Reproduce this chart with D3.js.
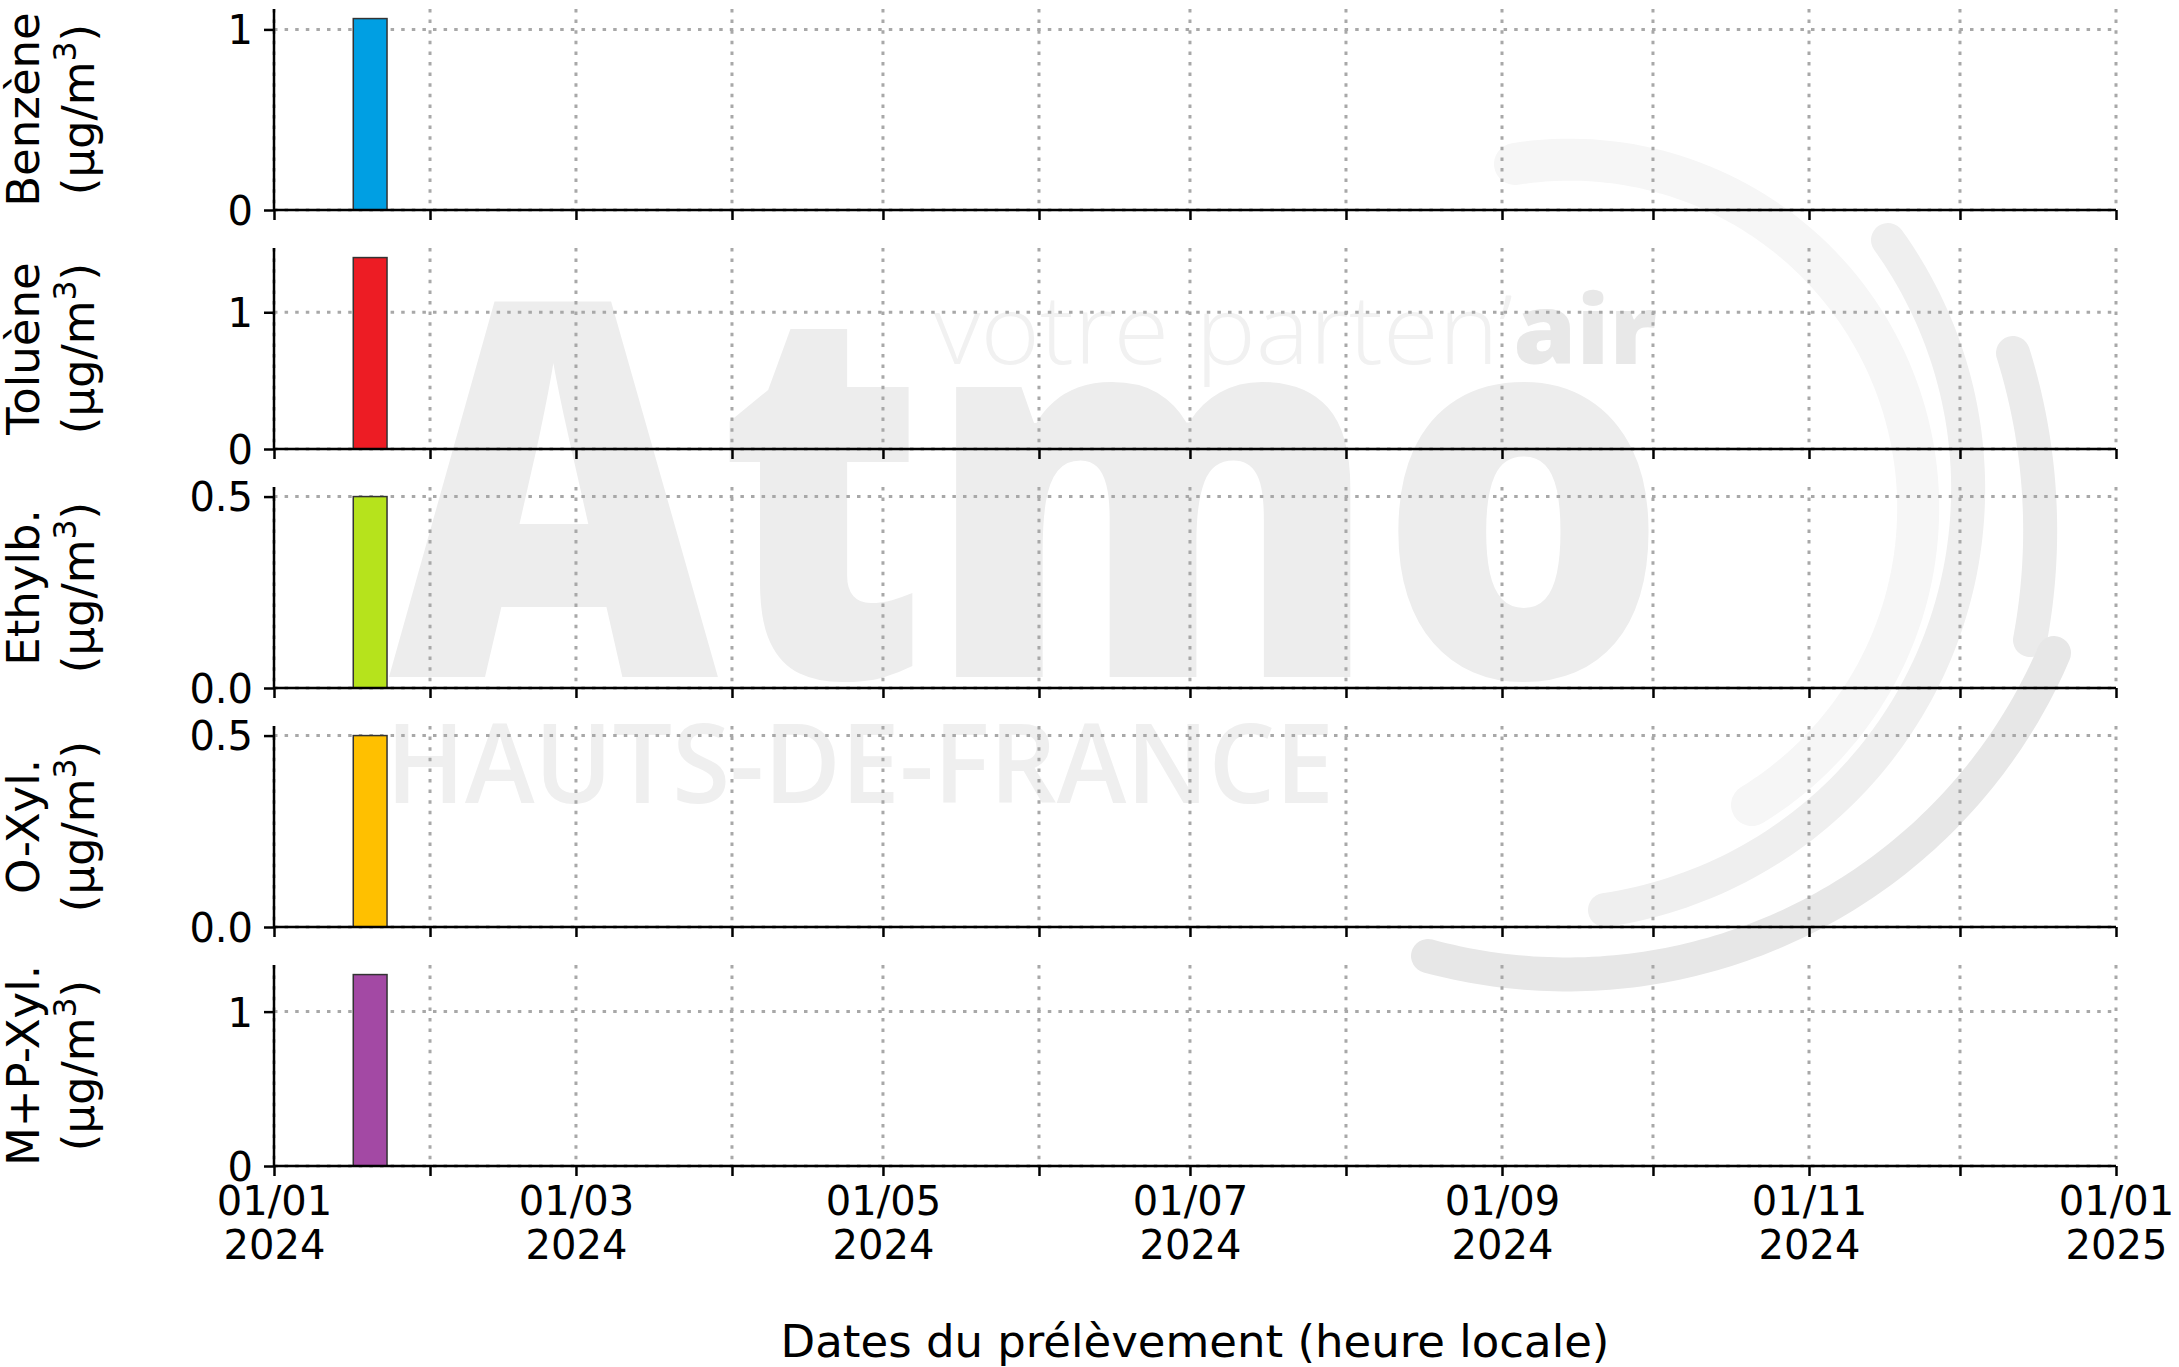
<!DOCTYPE html>
<html><head><meta charset="utf-8">
<script src="https://cdn.jsdelivr.net/npm/d3@7"></script>
<style>body{margin:0;background:#fff}svg{display:block}</style>
</head><body>
<svg id="c" width="2179" height="1367"></svg>
<script>
// ---- data ----
const species = ["Benzène", "Toluène", "Ethylb.", "O-Xyl.", "M+P-Xyl."];
const values = [1.06, 1.40, 0.50, 0.50, 1.24];
const colors = ["#009fe3", "#ed1c24", "#b6e31c", "#ffc000", "#a349a4"];
const sampleStart = "2024-01-16T18:00:00Z";
const sampleEnd = "2024-01-23T11:00:00Z";
const yTickValues = [[0, 1], [0, 1], [0, 0.5], [0, 0.5], [0, 1]];
const yTickLabels = [["0", "1"], ["0", "1"], ["0.0", "0.5"], ["0.0", "0.5"], ["0", "1"]];
const xDomain = ["2024-01-01T00:00:00Z", "2025-01-01T00:00:00Z"];
const xLabelEvery = 2; // label every other month
const xTitle = "Dates du prélèvement (heure locale)";
const unitText = ["(µg/m", "3", ")"];

// ---- layout ----
const W = 2179, H = 1367;
const left = 274, right = 2116;
const panelTop0 = 9, panelH = 201, panelStep = 239;
const font = "DejaVu Sans, sans-serif";
const tickFs = 40, labelFs = 45;
const gridColor = "#a8a8a8";

const svg = d3.select("#c");
svg.append("rect").attr("width", W).attr("height", H).attr("fill", "#fff");

// ---- watermark ----
const wm = svg.append("g").attr("class", "watermark");
wm.append("text").attr("x", 389).attr("y", 677)
  .attr("font-family", "Open Sans, sans-serif").attr("font-weight", 800)
  .attr("font-size", 524).attr("fill", "#ededed")
  .attr("textLength", 1279).attr("lengthAdjust", "spacingAndGlyphs").text("Atmo");
const vp = wm.append("text").attr("x", 934).attr("y", 364)
  .attr("font-family", "Open Sans, sans-serif").attr("font-size", 95)
  .attr("textLength", 723).attr("lengthAdjust", "spacingAndGlyphs");
vp.append("tspan").attr("font-weight", 300).attr("fill", "#f1f1f1").text("votre parten’");
vp.append("tspan").attr("font-weight", 800).attr("fill", "#e8e8e8").text("air");
wm.append("text").attr("x", 386).attr("y", 803)
  .attr("font-family", "Open Sans, sans-serif").attr("font-weight", 600)
  .attr("font-size", 110).attr("fill", "#efefef")
  .attr("textLength", 948).attr("lengthAdjust", "spacingAndGlyphs").text("HAUTS-DE-FRANCE");

function arcThrough(p1, p2, p3) {
  const [ax, ay] = p1, [bx, by] = p2, [cx, cy] = p3;
  const d = 2 * (ax * (by - cy) + bx * (cy - ay) + cx * (ay - by));
  const ux = ((ax*ax+ay*ay)*(by-cy) + (bx*bx+by*by)*(cy-ay) + (cx*cx+cy*cy)*(ay-by)) / d;
  const uy = ((ax*ax+ay*ay)*(cx-bx) + (bx*bx+by*by)*(ax-cx) + (cx*cx+cy*cy)*(bx-ax)) / d;
  const r = Math.hypot(ax - ux, ay - uy);
  const ang = p => Math.atan2(p[1] - uy, p[0] - ux);
  const T = 2 * Math.PI, mod = a => ((a % T) + T) % T;
  const a1 = ang(p1), d12 = mod(ang(p2) - a1), d13 = mod(ang(p3) - a1);
  const span = d12 < d13 ? d13 : d13 - T;
  const pts = d3.range(0, 101).map(i => {
    const a = a1 + span * i / 100;
    return [ux + r * Math.cos(a), uy + r * Math.sin(a)];
  });
  return d3.line()(pts);
}
const arcs = [
  {p: [[1515,164],[1916,469],[1752,805]], c: "#f6f6f6", w: 42},
  {p: [[1888,240],[1968,500],[1605,910]], c: "#efefef", w: 34},
  {p: [[2013,353],[2038,480],[2030,640]], c: "#ebebeb", w: 34},
  {p: [[2054,653],[1820,910],[1428,956]], c: "#e7e7e7", w: 34}
];
arcs.forEach(a => wm.append("path").attr("d", arcThrough(...a.p))
  .attr("fill", "none").attr("stroke", a.c).attr("stroke-width", a.w)
  .attr("stroke-linecap", "round"));

// ---- scales ----
const x = d3.scaleUtc().domain(xDomain.map(d => new Date(d))).range([left, right]);
const months = d3.utcMonth.range(new Date(xDomain[0]), d3.utcDay.offset(new Date(xDomain[1]), 1));
const fmtDM = d3.utcFormat("%d/%m"), fmtY = d3.utcFormat("%Y");

species.forEach((name, i) => {
  const top = panelTop0 + i * panelStep, bottom = top + panelH;
  const y = d3.scaleLinear().domain([0, values[i] * 1.05]).range([bottom, top]);
  const g = svg.append("g");

  // grid
  g.append("g").selectAll("line").data(yTickValues[i]).join("line")
    .attr("x1", left).attr("x2", right).attr("y1", d => y(d)).attr("y2", d => y(d))
    .attr("stroke", gridColor).attr("stroke-width", 3).attr("stroke-dasharray", "3.5 7.1");
  g.append("g").selectAll("line").data(months).join("line")
    .attr("x1", d => x(d)).attr("x2", d => x(d)).attr("y1", top).attr("y2", bottom)
    .attr("stroke", gridColor).attr("stroke-width", 3).attr("stroke-dasharray", "3.5 7.1");

  // bar
  g.append("rect")
    .attr("x", x(new Date(sampleStart))).attr("width", x(new Date(sampleEnd)) - x(new Date(sampleStart)))
    .attr("y", y(values[i])).attr("height", y(0) - y(values[i]))
    .attr("fill", colors[i]).attr("stroke", "#333").attr("stroke-width", 1.5);

  // y axis
  const ya = d3.axisLeft(y).tickValues(yTickValues[i])
    .tickFormat((d, k) => yTickLabels[i][k]).tickSize(10).tickPadding(11);
  const yg = g.append("g").attr("transform", `translate(${left},0)`).call(ya);
  yg.select(".domain").attr("d", `M0,${top}V${bottom}`).attr("stroke", "#000").attr("stroke-width", 2.5);
  yg.selectAll(".tick line").attr("stroke", "#000").attr("stroke-width", 2.5);
  yg.selectAll(".tick text").attr("font-family", font).attr("font-size", tickFs).attr("fill", "#000").attr("dy", "0.36em");

  // x axis
  const xa = d3.axisBottom(x).tickValues(months).tickSize(10).tickFormat("");
  const xg = g.append("g").attr("transform", `translate(0,${bottom})`).call(xa);
  xg.select(".domain").attr("d", `M${left},0H${right}`).attr("stroke", "#000").attr("stroke-width", 2.5);
  xg.selectAll(".tick line").attr("stroke", "#000").attr("stroke-width", 2.5);
  if (i === species.length - 1) {
    xg.selectAll(".tick text").remove();
    xg.selectAll(".tick").filter((d, k) => k % xLabelEvery === 0).each(function(d) {
      const t = d3.select(this).append("text").attr("font-family", font).attr("font-size", tickFs)
        .attr("fill", "#000").attr("text-anchor", "middle");
      t.append("tspan").attr("x", 0).attr("y", 49).text(fmtDM(d));
      t.append("tspan").attr("x", 0).attr("y", 93).text(fmtY(d));
    });
  }

  // y label (two lines, rotated)
  const cy = (top + bottom) / 2;
  svg.append("text").attr("transform", `translate(39,${cy}) rotate(-90)`)
    .attr("text-anchor", "middle").attr("font-family", font).attr("font-size", labelFs)
    .attr("fill", "#000").text(name);
  const u = svg.append("text").attr("transform", `translate(94,${cy}) rotate(-90)`)
    .attr("text-anchor", "middle").attr("font-family", font).attr("font-size", labelFs).attr("fill", "#000");
  u.append("tspan").text(unitText[0]);
  u.append("tspan").attr("font-size", labelFs * 0.7).attr("dy", -18).text(unitText[1]);
  u.append("tspan").attr("dy", 18).text(unitText[2]);
});

// x title
svg.append("text").attr("x", (left + right) / 2).attr("y", 1357).attr("text-anchor", "middle")
  .attr("font-family", font).attr("font-size", labelFs).attr("fill", "#000").text(xTitle);
</script>
</body></html>
